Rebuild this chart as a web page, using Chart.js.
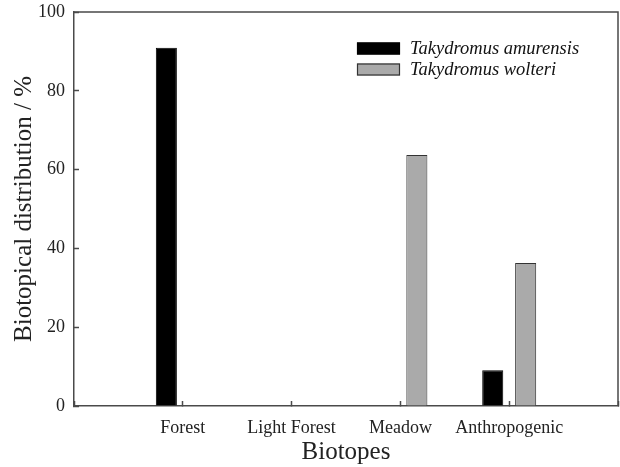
<!DOCTYPE html>
<html>
<head>
<meta charset="utf-8">
<script src="https://cdn.jsdelivr.net/npm/chart.js@4"></script>
<style>
  body { margin: 0; background: #fff; }
  #wrap { width: 620px; height: 467px; }
</style>
</head>
<body>
<div id="wrap"><canvas id="myChart" width="620" height="467"></canvas></div>
<script>
// empty slots at both ends keep the axis open like the original figure
var biotopes = ['', 'Forest', 'Light Forest', 'Meadow', 'Anthropogenic', ''];
var amurensis = [null, 90.9, 0, 0, 9.1, null];
var wolteri = [null, 0, 0, 63.7, 36.3, null];
var yTicks = [0, 20, 40, 60, 80, 100];

var serif = "'Liberation Serif', 'Times New Roman', serif";
var axisColor = '#4a4a4a';

// legend sits inside the plot, top right
var innerLegend = {
    id: 'innerLegend',
    afterDraw: function(chart) {
        var c = chart.ctx;
        var area = chart.chartArea;
        var x0 = area.right - 261;
        var y0 = area.top + 36.5;
        c.save();
        chart.data.datasets.forEach(function(ds, i) {
            var y = y0 + i * 21;
            c.fillStyle = ds.backgroundColor;
            c.fillRect(x0, y - 6, 43, 12);
            c.strokeStyle = ds.borderColor;
            c.lineWidth = 1.2;
            c.strokeRect(x0 + 0.5, y - 5.5, 42, 11);
            c.fillStyle = '#111';
            c.font = 'italic 18.5px ' + serif;
            c.textBaseline = 'middle';
            c.textAlign = 'left';
            c.fillText(ds.label, x0 + 53, y + 1);
        });
        c.restore();
    }
};

// top and right frame lines
var frame = {
    id: 'frame',
    afterDraw: function(chart) {
        var c = chart.ctx;
        var a = chart.chartArea;
        c.save();
        c.strokeStyle = axisColor;
        c.lineWidth = 1.5;
        c.beginPath();
        c.moveTo(a.left, a.top);
        c.lineTo(a.right, a.top);
        c.lineTo(a.right, a.bottom);
        c.stroke();
        c.restore();
    }
};

var ctx = document.getElementById('myChart').getContext('2d');
var chart = new Chart(ctx, {
    type: 'bar',
    data: {
        labels: biotopes,
        datasets: [{
            label: 'Takydromus amurensis',
            backgroundColor: '#000000',
            borderColor: '#000000',
            borderWidth: 1,
            data: amurensis
        }, {
            label: 'Takydromus wolteri',
            backgroundColor: '#aaaaaa',
            borderColor: '#333333',
            borderWidth: 1,
            data: wolteri
        }]
    },
    options: {
        responsive: false,
        animation: false,
        categoryPercentage: 0.605,
        barPercentage: 0.64,
        layout: { padding: { top: 12, right: 2, left: 0, bottom: 0 } },
        plugins: {
            legend: { display: false },
            tooltip: { enabled: false }
        },
        scales: {
            x: {
                offset: false,
                grid: {
                    offset: false,
                    drawOnChartArea: false,
                    tickLength: -5,
                    tickColor: axisColor,
                    tickWidth: 1.5
                },
                border: { color: axisColor, width: 1.5 },
                ticks: {
                    color: '#222',
                    font: { family: serif, size: 18 },
                    padding: 16,
                    maxRotation: 0,
                    autoSkip: false
                },
                title: {
                    display: true,
                    text: 'Biotopes',
                    color: '#222',
                    font: { family: serif, size: 25 },
                    padding: { top: 0, bottom: 0 }
                },
                afterFit: function(s) {
                    s.height = 61;
                    s.paddingLeft = 0;
                    s.paddingRight = 0;
                }
            },
            y: {
                min: 0,
                max: 100,
                afterBuildTicks: function(s) {
                    s.ticks = yTicks.map(function(v) { return { value: v }; });
                },
                grid: {
                    drawOnChartArea: false,
                    tickLength: -5,
                    tickColor: axisColor,
                    tickWidth: 1.5
                },
                border: { color: axisColor, width: 1.5 },
                ticks: {
                    color: '#222',
                    font: { family: serif, size: 18 },
                    padding: 14
                },
                title: {
                    display: true,
                    text: 'Biotopical distribution / %',
                    color: '#222',
                    font: { family: serif, size: 25 },
                    padding: { top: 9, bottom: 0 }
                },
                afterFit: function(s) {
                    s.width = 74;
                    s.paddingTop = 0;
                    s.paddingBottom = 0;
                }
            }
        }
    },
    plugins: [innerLegend, frame]
});
</script>
</body>
</html>
